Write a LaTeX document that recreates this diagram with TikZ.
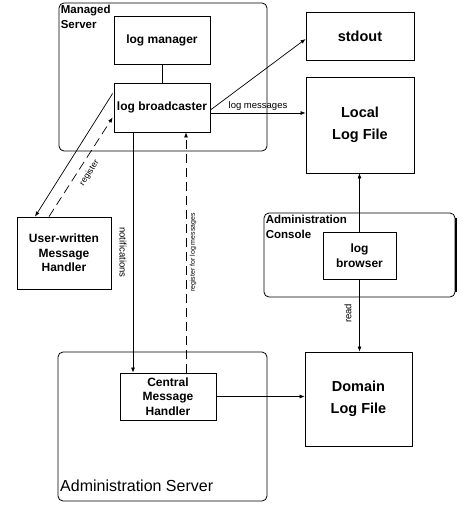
\documentclass[tikz,border=0pt]{standalone}
\usepackage{fontspec}
\setmainfont{Liberation Sans}
\usetikzlibrary{arrows.meta,calc}
\begin{document}
\begin{tikzpicture}[x=1pt,y=-1pt,
  box/.style={draw, line width=0.8pt, align=center, inner sep=0pt,
    font=\fontsize{12}{14.5}\selectfont\bfseries},
  bigbox/.style={draw, line width=0.8pt, align=center, inner sep=0pt,
    font=\fontsize{14.5}{22}\selectfont\bfseries},
  container/.style={draw, rounded corners=5pt, line width=0.8pt, inner sep=0pt},
  clabel/.style={anchor=north west, align=left, inner sep=2pt,
    font=\fontsize{11.5}{15}\selectfont\bfseries},
  lbl/.style={font=\fontsize{9.5}{10}\selectfont, inner sep=1pt},
  smalllbl/.style={font=\fontsize{7}{8}\selectfont, inner sep=1pt},
  conn/.style={line width=0.7pt},
  arr/.style={conn, -{Latex[length=5pt,width=4pt]}},
  dsh/.style={dash pattern=on 9pt off 5pt}
]
\useasboundingbox (0,0) rectangle (465,509);

% containers
\node[container, minimum width=208, minimum height=148] (ms) at (163,77) {};
\node[container, minimum width=191, minimum height=84] (ac) at (359.5,255) {};
\node[container, minimum width=209, minimum height=149] (as) at (162.5,426.5) {};
\draw[line width=1.6pt] ([xshift=0.5pt,yshift=-5pt]ac.north east) -- ([xshift=0.5pt,yshift=5pt]ac.south east);

\node[clabel] (msl) at (ms.north west) {Managed\\Server};
\node[clabel] (acl) at (ac.north west) {Administration\\Console};
\node[anchor=base west, inner sep=2pt, font=\fontsize{16}{18}\selectfont] (asl) at (58,491) {Administration Server};

% boxes
\node[box, minimum width=96, minimum height=48] (lm) at (162,40) {log manager};
\node[box, minimum width=96, minimum height=49] (lb) at (162,107.5) {log broadcaster};
\node[bigbox, minimum width=108, minimum height=48] (so) at (360,36) {stdout};
\node[bigbox, minimum width=108, minimum height=96] (ll) at (360,125) {Local\\Log File};
\node[box, minimum width=94, minimum height=72] (uh) at (64,253) {User-written\\Message\\Handler};
\node[box, minimum width=73, minimum height=47] (br) at (359.5,255.5) {log\\browser};
\node[box, minimum width=96, minimum height=47] (cm) at (168,396.5) {Central\\Message\\Handler};
\node[bigbox, minimum width=107, minimum height=94] (dl) at (358.5,399) {Domain\\Log File};

% connectors
\draw[conn] (lm) -- (lb);
\draw[arr] ([yshift=-2.5pt]lb.east) -- ([yshift=-3pt]so.west);
\draw[arr] ([yshift=-5.5pt]lb.east) -- ([yshift=-5.5pt]lb.east -| ll.west)
  node[lbl, midway, above=1pt] {log messages};
\draw[arr] ([xshift=-29pt]lb.south) -- ([xshift=-29pt]lb.south |- cm.north)
  node[lbl, midway, xshift=-10pt, rotate=-90] {notifications};
\draw[arr, dsh] ([xshift=18pt]cm.north) -- ([xshift=18pt]cm.north |- lb.south)
  node[smalllbl, midway, xshift=7pt, rotate=90] {register for log messages};
\draw[arr] ([yshift=14pt,xshift=-1pt]lb.west) -- ([xshift=-29pt]uh.north);
\draw[arr, dsh] ([xshift=-15pt]uh.north) -- ([yshift=-10pt,xshift=-1pt]lb.west)
  node[lbl, font=\fontsize{8.5}{9}\selectfont, pos=0.44, xshift=12.5pt, rotate=57] {register};
\draw[arr] (br.north) -- (br.north |- ll.south);
\draw[arr] (br.south) -- (br.south |- dl.north)
  node[lbl, pos=0.47, xshift=-11.5pt, rotate=90] {read};
\draw[arr] (cm.east) -- (cm.east -| dl.west);
\end{tikzpicture}
\end{document}
